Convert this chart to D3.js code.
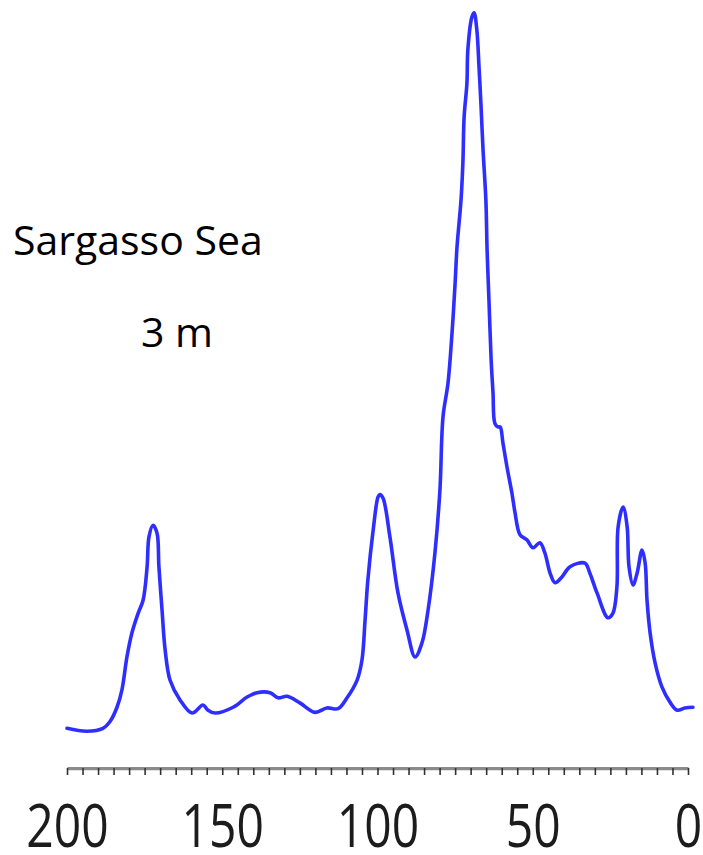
<!DOCTYPE html>
<html>
<head>
<meta charset="utf-8">
<script src="https://cdn.jsdelivr.net/npm/d3@7/dist/d3.min.js"></script>
<style>
  html, body { margin: 0; padding: 0; background: #fff; }
  svg { display: block; }
</style>
</head>
<body>
<svg id="chart" width="703" height="855"></svg>
<script>
// Spectrum trace: position (reversed axis, 200 → 0) and relative intensity
const position = [
  200.0, 193.6, 188.4, 186.2, 183.9, 182.3, 180.7, 179.1, 177.1, 175.5,
  174.2, 173.6, 172.3, 171.0, 170.4, 169.4, 168.4, 166.8, 163.6, 159.7,
  156.2, 154.6, 152.3, 146.5, 142.0, 138.8, 134.6, 132.0, 129.1, 125.0,
  120.1, 116.3, 112.7, 109.8, 106.6, 105.0, 104.0, 103.1, 101.4, 99.8,
  99.2, 98.2, 96.0, 93.4, 90.5, 87.9, 85.7, 83.7, 81.5, 79.9,
  78.9, 77.3, 76.0, 75.0, 74.4, 73.1, 72.5, 72.1, 71.2, 70.9,
  69.6, 68.9, 68.0, 67.3, 66.7, 66.0, 65.1, 64.7, 64.1, 63.4,
  62.8, 62.2, 61.2, 60.5, 59.6, 58.3, 56.7, 55.7, 54.1, 51.9,
  49.9, 47.7, 46.1, 44.4, 42.8, 40.6, 38.0, 33.2, 31.6, 29.3,
  25.8, 24.2, 22.9, 22.5, 20.9, 19.6, 19.0, 17.7, 16.4, 14.8,
  13.8, 13.2, 12.2, 10.6, 8.4, 5.8, 3.5, 1.0, -1.6
];
const intensity = [
  1.6, 1.2, 1.6, 2.5, 4.5, 6.9, 11.4, 14.7, 17.4, 19.2,
  23.8, 27.9, 29.5, 28.4, 23.8, 17.9, 12.4, 8.2, 5.5, 3.7,
  4.8, 4.1, 3.7, 4.5, 5.9, 6.5, 6.5, 5.8, 6.0, 5.1,
  3.8, 4.4, 4.3, 5.8, 8.2, 11.0, 16.5, 22.0, 28.8, 33.4,
  33.7, 33.2, 27.9, 20.2, 15.1, 11.4, 13.3, 17.9, 25.7, 34.3,
  44.4, 49.0, 55.9, 62.8, 67.7, 74.2, 79.3, 85.6, 90.2, 94.8,
  99.3, 99.9, 97.5, 92.4, 87.5, 81.0, 74.2, 67.3, 60.4, 52.2,
  47.7, 43.5, 43.0, 43.0, 40.8, 37.5, 33.9, 31.2, 28.2, 27.5,
  26.4, 27.1, 25.7, 22.9, 21.6, 22.4, 23.8, 24.3, 22.9, 20.2,
  16.8, 17.4, 21.0, 29.3, 32.0, 29.3, 23.8, 21.3, 22.9, 26.1,
  24.3, 19.2, 14.7, 10.6, 7.3, 5.2, 4.1, 4.4, 4.5
];
const majorTicks = [200, 150, 100, 50, 0];
const minorTicks = d3.range(0, 201, 5);
const titleText = "Sargasso Sea";
const subtitleText = "3 m";

const svg = d3.select("#chart");

const defs = svg.append("defs");
defs.append("filter").attr("id", "soft")
  .attr("x", "-5%").attr("y", "-5%").attr("width", "110%").attr("height", "110%")
  .append("feGaussianBlur").attr("stdDeviation", 0.7);

const x = d3.scaleLinear().domain([200, 0]).range([67, 688]);
const y = d3.scaleLinear().domain([0, 100]).range([740, 12]);

const pts = position.map((p, i) => [p, intensity[i]]);

// spectrum line
svg.append("path")
  .datum(pts)
  .attr("fill", "none")
  .attr("stroke", "#2f2fff")
  .attr("stroke-width", 3.6)
  .attr("stroke-linejoin", "round")
  .attr("stroke-linecap", "round")
  .attr("filter", "url(#soft)")
  .attr("d", d3.line().x(d => x(d[0])).y(d => y(d[1])).curve(d3.curveCatmullRom.alpha(0.5)));

// bottom axis: minor ticks every 5, labelled major ticks every 50
const axisY = 768;
const minorAxis = svg.append("g")
  .attr("transform", `translate(0,${axisY})`)
  .attr("filter", "url(#soft)")
  .call(d3.axisBottom(x).tickValues(minorTicks).tickSize(7).tickSizeOuter(0).tickFormat(""));
minorAxis.select(".domain").attr("stroke", "#8a8a8a").attr("stroke-width", 3.5);
minorAxis.selectAll(".tick line").attr("stroke", "#333").attr("stroke-width", 1.6);

const majorAxis = svg.append("g")
  .attr("transform", `translate(0,${axisY})`)
  .call(d3.axisBottom(x).tickValues(majorTicks).tickSize(11).tickSizeOuter(0).tickFormat(d3.format("d")));
majorAxis.select(".domain").remove();
majorAxis.selectAll(".tick line").attr("stroke", "#333").attr("stroke-width", 1.8).attr("filter", "url(#soft)");
majorAxis.selectAll(".tick text")
  .attr("y", 79)
  .attr("dy", 0)
  .attr("fill", "#1a1a1a")
  .attr("font-family", "'Open Sans', 'DejaVu Sans', sans-serif")
  .attr("font-size", 60)
  .attr("transform", "scale(0.8,1)")
  .attr("filter", "url(#soft)");

// labels
svg.append("text")
  .attr("x", 13).attr("y", 255)
  .attr("font-family", "'Open Sans', sans-serif")
  .attr("font-size", 41)
  .attr("fill", "#000")
  .text(titleText);

svg.append("text")
  .attr("x", 141).attr("y", 347)
  .attr("font-family", "'Open Sans', sans-serif")
  .attr("font-size", 41)
  .attr("fill", "#000")
  .text(subtitleText);
</script>
</body>
</html>
